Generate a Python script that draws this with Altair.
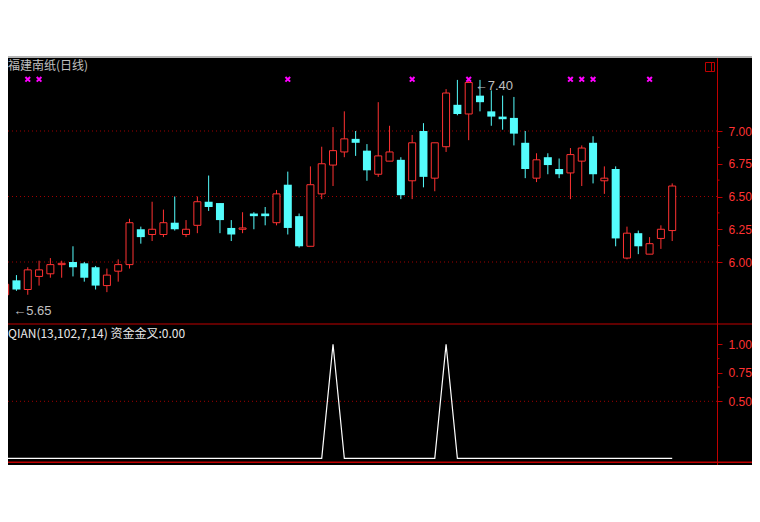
import altair as alt
import pandas as pd
import numpy as np

# ---- data (60 daily candles) ----
opens  = [5.75, 5.86, 5.79, 5.89, 5.91, 5.98, 6.00, 5.99, 5.96, 5.82,
          5.93, 5.98, 6.25, 6.21, 6.21, 6.30, 6.21, 6.28, 6.46, 6.45,
          6.26, 6.25, 6.37, 6.37, 6.30, 6.59, 6.35, 6.12, 6.52, 6.74,
          6.84, 6.94, 6.85, 6.67, 6.77, 6.78, 6.62, 7.00, 6.64, 6.88,
          7.20, 7.13, 7.27, 7.15, 7.11, 7.10, 6.91, 6.64, 6.80, 6.71,
          6.68, 6.77, 6.91, 6.62, 6.71, 6.03, 6.22, 6.06, 6.18, 6.24]
highs  = [5.86, 5.90, 5.96, 6.01, 6.03, 6.01, 6.12, 6.00, 5.97, 5.95,
          6.02, 6.33, 6.27, 6.46, 6.40, 6.50, 6.32, 6.50, 6.66, 6.45,
          6.32, 6.38, 6.38, 6.42, 6.55, 6.69, 6.37, 6.73, 6.88, 7.03,
          7.15, 7.00, 6.90, 7.22, 7.04, 6.80, 6.97, 7.06, 6.91, 7.32,
          7.39, 7.40, 7.39, 7.31, 7.27, 7.26, 7.00, 6.83, 6.83, 6.79,
          6.87, 6.89, 6.96, 6.73, 6.73, 6.27, 6.24, 6.19, 6.28, 6.60]
lows   = [5.65, 5.78, 5.75, 5.82, 5.88, 5.88, 5.89, 5.85, 5.79, 5.77,
          5.85, 5.95, 6.14, 6.16, 6.19, 6.24, 6.19, 6.22, 6.39, 6.22,
          6.16, 6.22, 6.25, 6.28, 6.28, 6.21, 6.11, 6.12, 6.48, 6.58,
          6.80, 6.81, 6.62, 6.65, 6.77, 6.48, 6.48, 6.57, 6.54, 6.84,
          7.12, 6.93, 7.15, 7.04, 7.01, 6.89, 6.64, 6.61, 6.67, 6.64,
          6.48, 6.58, 6.60, 6.52, 6.12, 6.02, 6.06, 6.06, 6.10, 6.16]
closes = [5.83, 5.79, 5.94, 5.94, 5.98, 5.99, 5.96, 5.88, 5.82, 5.90,
          5.98, 6.30, 6.19, 6.25, 6.30, 6.25, 6.25, 6.46, 6.42, 6.32,
          6.21, 6.26, 6.35, 6.35, 6.52, 6.26, 6.12, 6.59, 6.75, 6.85,
          6.94, 6.91, 6.70, 6.81, 6.84, 6.51, 6.91, 6.65, 6.91, 7.29,
          7.13, 7.37, 7.22, 7.11, 7.09, 6.98, 6.71, 6.78, 6.74, 6.67,
          6.82, 6.87, 6.67, 6.64, 6.18, 6.22, 6.12, 6.14, 6.25, 6.58]
signal = [0, 0, 0, 0, 0, 0, 0, 0, 0, 0,
          0, 0, 0, 0, 0, 0, 0, 0, 0, 0,
          0, 0, 0, 0, 0, 0, 0, 0, 0, 1,
          0, 0, 0, 0, 0, 0, 0, 0, 0, 1,
          0, 0, 0, 0, 0, 0, 0, 0, 0, 0,
          0, 0, 0, 0, 0, 0, 0, 0, 0, 0]
marker_days = [2, 3, 25, 36, 41, 50, 51, 52, 57]

price_ticks = [6.0, 6.25, 6.5, 6.75, 7.0]
price_minor = [6.125, 6.375, 6.625, 6.875]
price_grid = [6.0, 6.5, 7.0]
sig_ticks = [0.5, 0.75, 1.0]
sig_minor = [0.625, 0.875]
sig_grid = [0.5]

title_main = "福建南纸(日线)"
title_sub = "QIAN(13,102,7,14) 资金金叉:0.00"

# ---- styles ----
RED = "#ff3232"
CYAN = "#54fcfc"
FRAME = "#c00000"
GRIDC = "#a00000"
GRAY = "#c0c0c0"
W, H = 744, 407
AXIS_X = 709

days = list(range(len(opens)))
df = pd.DataFrame({"day": days, "open": opens, "high": highs,
                   "low": lows, "close": closes, "signal": signal})
df["dir"] = np.where(df["close"] >= df["open"], "up", "down")

lo_i = int(np.argmin(lows))
hi_i = int(np.argmax(highs))
lo_df = pd.DataFrame({"day": [lo_i], "v": [lows[lo_i]], "t": ["←%.2f" % lows[lo_i]]})
hi_df = pd.DataFrame({"day": [hi_i], "v": [highs[hi_i]], "t": ["←%.2f" % highs[hi_i]]})
mk_df = pd.DataFrame({"day": marker_days})

xscale = alt.Scale(domain=[0.6946, 65.616], nice=False, zero=False)
X = alt.X("day:Q", scale=xscale, axis=None)

pscale = alt.Scale(domain=[4.4504, 7.5573], nice=False, zero=False)
sscale = alt.Scale(domain=[-0.0588, 3.5114], nice=False, zero=False)

def mk_axis(values):
    return alt.Axis(orient="right", offset=AXIS_X - W, values=values, format=".2f",
                    title=None, grid=False, tickSize=5, tickColor=FRAME, tickWidth=1,
                    domainColor=FRAME, domainWidth=1, labelColor=RED,
                    labelFont="Liberation Sans", labelFontSize=12, labelPadding=6,
                    labelBaseline="middle", labelFlush=False, labelOverlap=False)

paxis = mk_axis(price_ticks)
saxis = mk_axis(sig_ticks)

# ---- price panel ----
pgrid = alt.Chart(pd.DataFrame({"v": price_grid})).mark_rule(
    color=GRIDC, strokeDash=[1, 3], strokeWidth=1).encode(
    y=alt.Y("v:Q", scale=pscale, axis=paxis), x=alt.value(0), x2=alt.value(AXIS_X))
pminor = alt.Chart(pd.DataFrame({"v": price_minor})).mark_rule(
    color=FRAME, strokeWidth=1).encode(
    y=alt.Y("v:Q", scale=pscale, axis=paxis), x=alt.value(AXIS_X + 0.5), x2=alt.value(AXIS_X + 2.5))
wicks = alt.Chart(df).mark_rule(strokeWidth=1).encode(
    x=X, y=alt.Y("low:Q", scale=pscale, axis=paxis), y2="high:Q",
    color=alt.Color("dir:N", scale=alt.Scale(domain=["up", "down"], range=[RED, CYAN]), legend=None))
up_bodies = alt.Chart(df).transform_filter(alt.datum.dir == "up").mark_bar(
    width=7, fill="#000000", stroke=RED, strokeWidth=1).encode(
    x=X, y=alt.Y("open:Q", scale=pscale, axis=paxis), y2="close:Q")
dn_bodies = alt.Chart(df).transform_filter(alt.datum.dir == "down").mark_bar(
    width=8, fill=CYAN, strokeWidth=0).encode(
    x=X, y=alt.Y("open:Q", scale=pscale, axis=paxis), y2="close:Q")
markers = alt.Chart(mk_df).mark_point(
    shape="M-1,-1L1,1M-1,1L1,-1", size=22, filled=False, strokeWidth=2,
    color="#ff00ff", opacity=1).encode(
    x=X, y=alt.value(21.3))
lo_lbl = alt.Chart(lo_df).mark_text(
    align="left", baseline="middle", dx=8, dy=3, color=GRAY,
    font="Liberation Sans", fontSize=13).encode(
    x=X, y=alt.Y("v:Q", scale=pscale, axis=paxis), text="t:N")
hi_lbl = alt.Chart(hi_df).mark_text(
    align="left", baseline="middle", dx=6, dy=7.5, color=GRAY,
    font="Liberation Sans", fontSize=13).encode(
    x=X, y=alt.Y("v:Q", scale=pscale, axis=paxis), text="t:N")

price = alt.layer(pgrid, pminor, wicks, up_bodies, dn_bodies, markers, lo_lbl, hi_lbl)

# ---- indicator panel ----
sgrid = alt.Chart(pd.DataFrame({"v": sig_grid})).mark_rule(
    color=GRIDC, strokeDash=[1, 3], strokeWidth=1).encode(
    y=alt.Y("v:Q", scale=sscale, axis=saxis), x=alt.value(0), x2=alt.value(AXIS_X))
sminor = alt.Chart(pd.DataFrame({"v": sig_minor})).mark_rule(
    color=FRAME, strokeWidth=1).encode(
    y=alt.Y("v:Q", scale=sscale, axis=saxis), x=alt.value(AXIS_X + 0.5), x2=alt.value(AXIS_X + 2.5))
sline = alt.Chart(df).mark_line(color="#ffffff", strokeWidth=1.2).encode(
    x=X, y=alt.Y("signal:Q", scale=sscale, axis=saxis))

indicator = alt.layer(sgrid, sminor, sline)

# ---- decoration (frame, titles, icon) ----
one = pd.DataFrame({"a": [0]})
top_line = alt.Chart(one).mark_rule(color="#b4b4b4", strokeWidth=2).encode(
    x=alt.value(0), x2=alt.value(W), y=alt.value(-1))
sep_line = alt.Chart(one).mark_rule(color=FRAME, strokeWidth=1).encode(
    x=alt.value(0), x2=alt.value(W), y=alt.value(266))
bot_line = alt.Chart(one).mark_rule(color=FRAME, strokeWidth=1.5).encode(
    x=alt.value(0), x2=alt.value(W), y=alt.value(404.3))
icon_box = alt.Chart(one).mark_rect(fill="#000000", stroke=FRAME, strokeWidth=1).encode(
    x=alt.value(697.5), x2=alt.value(706.5), y=alt.value(4.5), y2=alt.value(13.5))
icon_bar = alt.Chart(one).mark_rule(color=FRAME, strokeWidth=1).encode(
    x=alt.value(703.5), y=alt.value(4.5), y2=alt.value(13.5))
t_main = alt.Chart(one).mark_text(
    align="left", baseline="middle", color=GRAY, font="Noto Sans CJK SC", fontSize=12).encode(
    x=alt.value(0), y=alt.value(8), text=alt.value(title_main))
t_sub = alt.Chart(one).mark_text(
    align="left", baseline="middle", color="#e8e8e8", font="Noto Sans CJK SC", fontSize=12).encode(
    x=alt.value(0), y=alt.value(275.5), text=alt.value(title_sub))

deco = alt.layer(top_line, sep_line, bot_line, icon_box, icon_bar, t_main, t_sub)

chart = alt.layer(price, indicator, deco).resolve_scale(y="independent").properties(
    width=W, height=H,
    autosize=alt.AutoSizeParams(type="none"),
    padding={"left": 0, "top": 50, "right": 0, "bottom": 0},
    background="#ffffff",
).configure_view(fill="#000000", stroke=None)

chart.save("out.html", embed_options={"renderer": "svg", "actions": False})
